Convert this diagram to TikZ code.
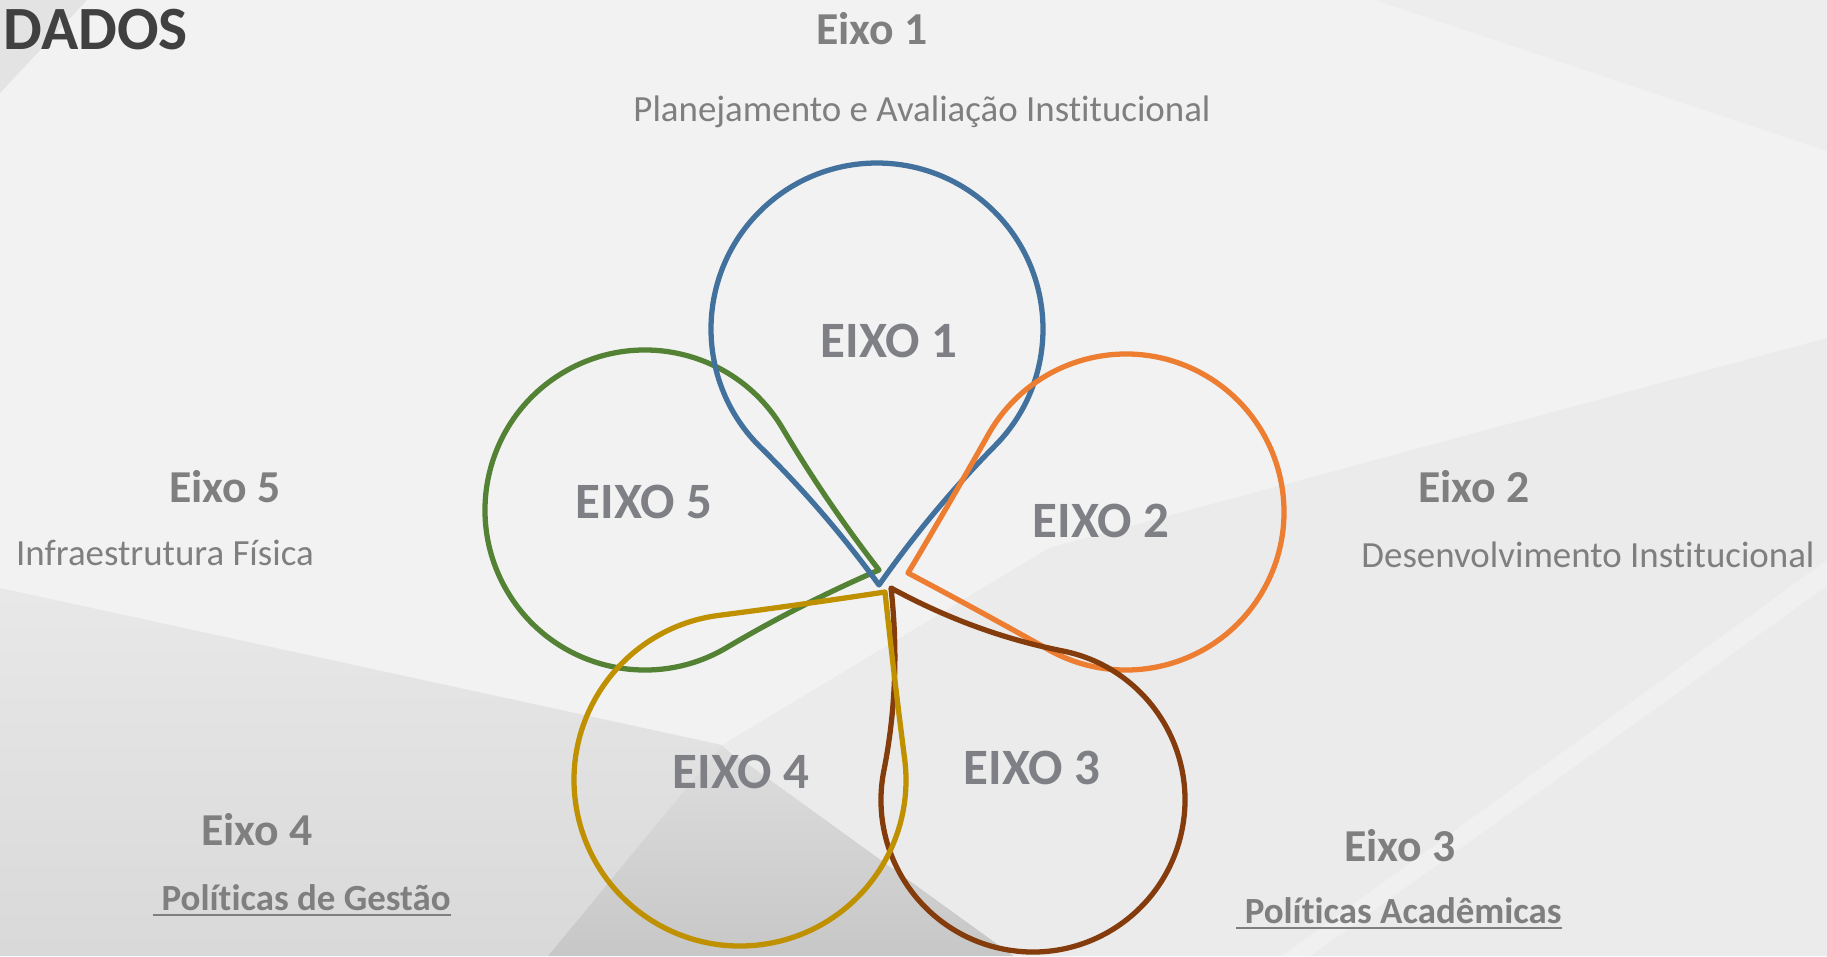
\documentclass[tikz,border=0pt]{standalone}
\usepackage{fontspec}
\setmainfont{Carlito}[RawFeature={-liga;-clig;-calt;-dlig}]
\usepackage{xcolor}
\usepackage{tikz}
\usetikzlibrary{calc}

\definecolor{eixo1}{HTML}{41719C}
\definecolor{eixo2}{HTML}{ED7D31}
\definecolor{eixo3}{HTML}{843C0C}
\definecolor{eixo4}{HTML}{BF9000}
\definecolor{eixo5}{HTML}{548235}
\definecolor{textgray}{HTML}{7F7F7F}
\definecolor{titlegray}{HTML}{404040}
\definecolor{petalgray}{HTML}{7E8085}

% teardrop: colour, centre x, centre y, tip x, tip y, radius
\newcommand{\petal}[6]{%
	\pgfmathsetmacro\petalang{atan2(#5-#3,#4-#2)}%
	\pgfmathsetmacro\petalt{100*veclen((#4-#2)/100,(#5-#3)/100)/sqrt(2)}%
	\begin{scope}[shift={(#2,#3)},rotate=\petalang]
		\draw[petal,draw=#1] (45:#6) arc[start angle=45,end angle=315,radius=#6]
			.. controls ({0.7071*#6+0.2357*\petalt},{-0.7071*#6+0.2357*\petalt})
			and ({0.4714*#6+0.7071*\petalt},{-0.4714*#6+0.2357*\petalt}) .. ({1.4142*\petalt},0)
			.. controls ({0.4714*#6+0.7071*\petalt},{0.4714*#6-0.2357*\petalt})
			and ({0.7071*#6+0.2357*\petalt},{0.7071*#6-0.2357*\petalt}) .. cycle;
	\end{scope}}

\begin{document}
\begin{tikzpicture}[x=0.1mm,y=0.1mm]
		\tikzstyle{petal}=[line width=1.5pt, line join=round]
		\tikzstyle{title}=[text=titlegray, font=\fontsize{17.5}{20}\selectfont\bfseries, anchor=base west, inner sep=0pt]
		\tikzstyle{eixo_head}=[text=textgray, font=\fontsize{13}{15}\selectfont\bfseries, anchor=base, inner sep=0pt]
		\tikzstyle{eixo_text}=[text=textgray, font=\fontsize{10.5}{12}\selectfont, anchor=base, inner sep=0pt]
		\tikzstyle{eixo_link}=[eixo_text, font=\fontsize{10.5}{12}\selectfont\bfseries]
		\tikzstyle{petal_label}=[text=petalgray, font=\fontsize{14.5}{17}\selectfont\bfseries, anchor=base, inner sep=0pt]

		\useasboundingbox (0,0) rectangle (1827,956);

		% background facets
		\fill[black!5] (0,0) rectangle (1827,956);
		\fill[black!11] (0,956) -- (87,956) -- (0,863) -- cycle;
		\fill[black!7] (1375,956) -- (1827,956) -- (1827,805) -- cycle;
		\shade[top color=black!9, bottom color=black!15] (0,368) -- (722,211) -- (548,0) -- (0,0) -- cycle;
		\shade[top color=black!13, bottom color=black!22] (722,211) -- (1014,0) -- (548,0) -- cycle;
		\fill[black!3] (722,211) -- (1049,408) -- (1060,398) -- (735,200) -- cycle;
		\fill[black!8] (1049,408) -- (1827,618) -- (1827,0) -- (1014,0) -- (722,211) -- cycle;
		\fill[black!6] (1282,0) -- (1827,396) -- (1827,370) -- (1310,0) -- cycle;

		% petals
		\petal{eixo5}{645}{446}{879}{386}{160}
		\petal{eixo1}{877}{627}{879}{371}{166}
		\petal{eixo2}{1126}{444}{908}{383}{158}
		\petal{eixo3}{1033}{156}{891}{368}{152}
		\petal{eixo4}{740}{176}{885}{364}{166}

		\node [petal_label] (p1) at (889,599) {EIXO 1};
		\node [petal_label] (p2) at (1101,419) {EIXO 2};
		\node [petal_label] (p3) at (1032,172) {EIXO 3};
		\node [petal_label] (p4) at (741,168) {EIXO 4};
		\node [petal_label] (p5) at (644,438) {EIXO 5};

		% texts
		\node [title] (dados) at (3,907) {DADOS};

		\node [eixo_head] (h1) at (872,912) {Eixo 1};
		\node [eixo_text] (t1) at (922,835) {Planejamento e Avaliação Institucional};

		\node [eixo_head] (h2) at (1474,454) {Eixo 2};
		\node [eixo_text] (t2) at (1588,389) {Desenvolvimento Institucional};

		\node [eixo_head] (h3) at (1400,95) {Eixo 3};
		\node [eixo_link] (t3) at (1399,33) {\underline{\ Políticas Acadêmicas}};

		\node [eixo_head] (h4) at (257,111) {Eixo 4};
		\node [eixo_link] (t4) at (302,46) {\underline{\ Políticas de Gestão}};

		\node [eixo_head] (h5) at (225,454) {Eixo 5};
		\node [eixo_text] (t5) at (165,391) {Infraestrutura Física};
	\end{tikzpicture}
\end{document}
